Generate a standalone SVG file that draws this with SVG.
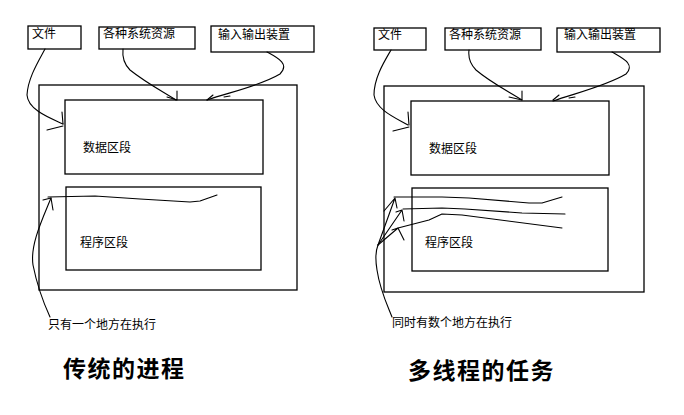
<svg xmlns="http://www.w3.org/2000/svg" width="684" height="415" viewBox="0 0 684 415">
<style>
.box{fill:none;stroke:#000;stroke-width:1.3}
.ln{fill:none;stroke:#000;stroke-width:1.1;stroke-linecap:round;stroke-linejoin:round}
.t{font-family:"Noto Sans CJK SC","Liberation Sans",sans-serif;font-size:12px;fill:#000}
.title{font-family:"Noto Sans CJK SC","Liberation Sans",sans-serif;font-size:23px;font-weight:bold;letter-spacing:1.5px;fill:#000}
</style>
<rect width="684" height="415" fill="#fff"/>
<!-- Left: traditional process -->
<g id="left-outer"><rect class="box" x="39" y="85" width="258" height="205"/></g>
<g id="left-file"><rect class="box" x="28" y="26" width="53" height="23"/><text class="t" x="32" y="38">文件</text></g>
<g id="left-res"><rect class="box" x="99" y="27" width="96" height="22"/><text class="t" x="103" y="38">各种系统资源</text></g>
<g id="left-io"><rect class="box" x="211" y="26" width="103" height="26"/><text class="t" x="218" y="39">输入输出装置</text></g>
<g id="left-data"><rect class="box" x="65" y="100" width="198" height="74"/><text class="t" x="83" y="152">数据区段</text></g>
<g id="left-prog"><rect class="box" x="66" y="187" width="195" height="83"/><text class="t" x="80" y="247">程序区段</text></g>
<g id="left-label"><text class="t" x="48" y="329">只有一个地方在执行</text></g>
<g id="left-title"><text class="title" x="63" y="377">传统的进程</text></g>
<!-- Right: multithreaded task -->
<g id="right-outer"><rect class="box" x="384" y="86" width="260" height="206"/></g>
<g id="right-file"><rect class="box" x="374" y="28" width="52" height="22"/><text class="t" x="378" y="39">文件</text></g>
<g id="right-res"><rect class="box" x="445" y="28" width="96" height="22"/><text class="t" x="449" y="39">各种系统资源</text></g>
<g id="right-io"><rect class="box" x="557" y="28" width="103" height="24"/><text class="t" x="564" y="39">输入输出装置</text></g>
<g id="right-data"><rect class="box" x="411" y="101" width="198" height="74"/><text class="t" x="429" y="153">数据区段</text></g>
<g id="right-prog"><rect class="box" x="412" y="188" width="196" height="83"/><text class="t" x="425" y="247">程序区段</text></g>
<g id="right-label"><text class="t" x="392" y="327">同时有数个地方在执行</text></g>
<g id="right-title"><text class="title" x="408" y="379">多线程的任务</text></g>
<g id="connectors">
<!-- left -->
<path class="ln" d="M45,49 C38,62 28,78 27,95 C28,110 50,118 63,124"/>
<path class="ln" d="M62,112 L63,124 M47,130 L63,126"/>
<path class="ln" d="M123,49 C122,58 124,64 130,70 C145,82 160,90 176,100"/>
<path class="ln" d="M177,91 L177,100 M167,97 L177,100"/>
<path class="ln" d="M267,52 C278,58 290,64 280,74 C260,86 230,92 207,100"/>
<path class="ln" d="M213,95 L207,100 M224,97 L230,96"/>
<path class="ln" d="M48,197 L95,196 L140,199 L190,202 L200,201 L217,195"/>
<path class="ln" d="M50,317 C44,304 38,290 33,265 C30,245 42,220 51,198"/>
<path class="ln" d="M43,200 L51,198 L53,210"/>
<!-- right -->
<path class="ln" d="M391,50 C384,62 374,78 374,95 C376,110 396,118 408,125"/>
<path class="ln" d="M408,112 L409,125 M393,131 L409,127"/>
<path class="ln" d="M469,50 C468,58 470,64 476,70 C490,82 506,90 522,100"/>
<path class="ln" d="M522,91 L522,100 M509,97 L522,100"/>
<path class="ln" d="M612,52 C622,58 636,64 626,74 C606,86 576,93 553,101"/>
<path class="ln" d="M559,95 L553,100 M569,98 L575,97"/>
<path class="ln" d="M394,197 L442,197 L469,198 L529,203 L542,203 L562,197"/>
<path class="ln" d="M403,209 L442,208 L465,209 L522,213 L565,214"/>
<path class="ln" d="M398,228 L429,220 L442,214 L462,215 L562,228"/>
<path class="ln" d="M392,317 C386,302 380,290 377,270 C375,258 376,250 378,245"/>
<path class="ln" d="M378,245 L395,198 M384,211 L395,198 L397,208"/>
<path class="ln" d="M378,245 L402,210 M396,212 L402,210 L404,221"/>
<path class="ln" d="M378,245 L398,228 M392,230 L398,228 L404,240"/>
</g>
</svg>
